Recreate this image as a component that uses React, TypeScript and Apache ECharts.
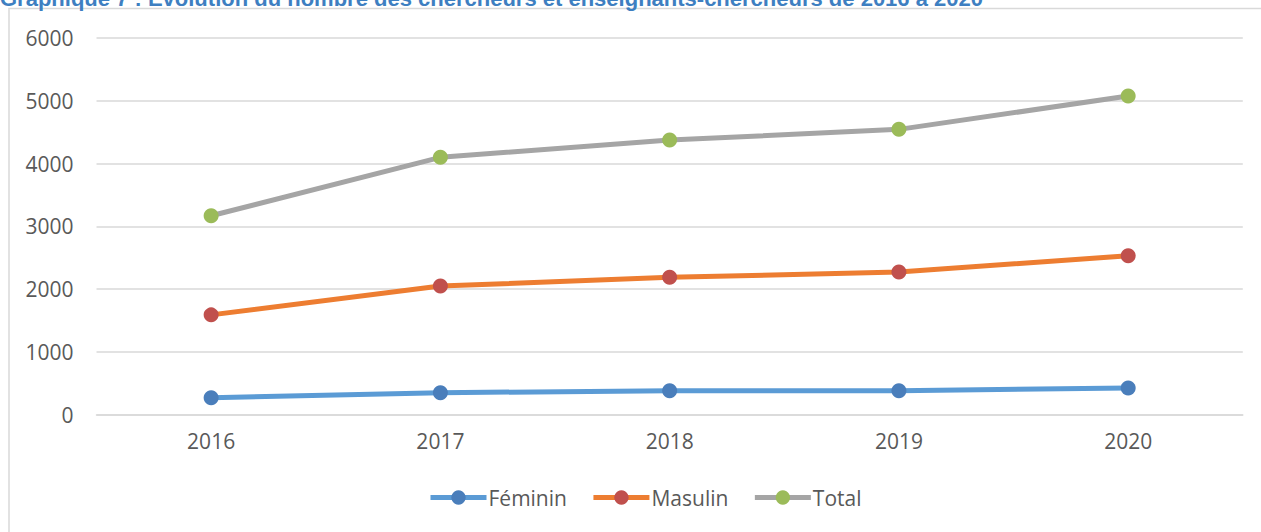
import React, { useEffect, useRef } from "react";
import * as echarts from "echarts";

const years = ["2016", "2017", "2018", "2019", "2020"];
const feminin = [271, 350, 382, 382, 425];
const masulin = [1590, 2049, 2188, 2272, 2532];
const total = [3169, 4099, 4374, 4545, 5075];
const titleText =
  "Graphique 7 : Evolution du nombre des chercheurs et enseignants-chercheurs de 2016 à 2020";

export default function App() {
  const ref = useRef<HTMLDivElement>(null);
  useEffect(() => {
    if (!ref.current) return;
    const chart = echarts.init(ref.current, undefined, { renderer: "svg" });
    const font = "'Open Sans', sans-serif";
    const mk = (name: string, data: number[], line: string, marker: string) => ({
      name,
      type: "line",
      data,
      symbol: "circle",
      symbolSize: 15,
      lineStyle: { color: line, width: 5 },
      itemStyle: { color: marker, borderWidth: 0 },
    });
    chart.setOption({
      animation: false,
      backgroundColor: "#ffffff",
      color: ["#5B9BD5", "#ED7D31", "#A5A5A5"],
      graphic: [
        {
          type: "rect",
          shape: { x: 9, y: 8.5, width: 1400, height: 700 },
          style: { fill: "none", stroke: "#D9D9D9", lineWidth: 1.5 },
          silent: true,
        },
        {
          type: "text",
          x: 0,
          y: -13,
          style: {
            text: titleText,
            fontFamily: "'Liberation Sans', Arial, sans-serif",
            fontWeight: "bold",
            fontSize: 22,
            fill: "#3E7FC1",
          },
          silent: true,
        },
      ],
      grid: { left: 96.5, right: 18.2, top: 38, bottom: 117.3, containLabel: false },
      legend: {
        left: 428,
        top: 487,
        padding: 0,
        itemGap: 24,
        itemWidth: 56,
        itemHeight: 18,
        lineStyle: { width: 5 },
        textStyle: { fontFamily: font, fontSize: 21, color: "#595959", padding: [0, 0, 0, -3] },
        data: ["Féminin", "Masulin", "Total"],
      },
      xAxis: {
        type: "category",
        data: years,
        boundaryGap: true,
        axisLine: { lineStyle: { color: "#D9D9D9", width: 1.5 } },
        axisTick: { show: false },
        axisLabel: { fontFamily: font, fontSize: 21, color: "#595959", margin: 16 },
      },
      yAxis: {
        type: "value",
        min: 0,
        max: 6000,
        interval: 1000,
        axisLine: { show: false },
        axisTick: { show: false },
        splitLine: { lineStyle: { color: "#D9D9D9", width: 1.5 } },
        axisLabel: {
          fontFamily: font,
          fontSize: 21,
          color: "#595959",
          margin: 23,
          formatter: (v: number) => String(v),
        },
      },
      series: [
        mk("Féminin", feminin, "#5B9BD5", "#4A7EBB"),
        mk("Masulin", masulin, "#ED7D31", "#C0504D"),
        mk("Total", total, "#A5A5A5", "#9BBB59"),
      ],
    });
    return () => chart.dispose();
  }, []);
  return (
    <div
      ref={ref}
      style={{ position: "fixed", left: 0, top: 0, width: 1261, height: 532, background: "#fff" }}
    />
  );
}
